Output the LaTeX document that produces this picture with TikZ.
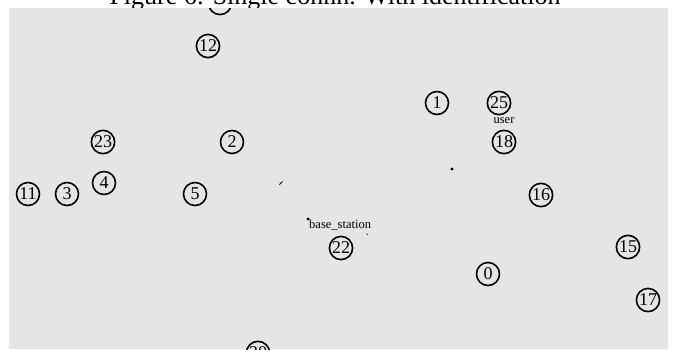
\documentclass[tikz,border=0pt]{standalone}
\usepackage{fontspec}
\setmainfont{Liberation Serif}
\definecolor{panelgrey}{RGB}{229,229,229}
\tikzset{
  nodecirc/.style={circle,draw=black,line width=1.6pt,inner sep=0.6pt,minimum size=23pt,font=\fontsize{18}{18}\selectfont},
  smalllbl/.style={inner sep=0pt,font=\fontsize{12.5}{13}\selectfont},
  dotmark/.style={circle,fill=black,inner sep=0pt,minimum size=3.4pt},
}
\begin{document}
\begin{tikzpicture}[x=1pt,y=-1pt]
\useasboundingbox (0,0) rectangle (673,349);
\fill[white] (0,0) rectangle (673,349);
\node[inner sep=0pt,anchor=base,font=\fontsize{26}{26}\selectfont] (title) at (335,4) {Figure 6: Single connn. With identification};
\fill[panelgrey] (9,8) rectangle (668,349);
\begin{scope}
\clip (9,8) rectangle (668,349);
\node[nodecirc] (n21) at (220,3) {21};
\node[nodecirc] (n12) at (208,46) {12};
\node[nodecirc] (n1) at (437,103) {1};
\node[nodecirc] (n25) at (499,103) {25};
\node[smalllbl] (user) at (504,121) {user};
\node[nodecirc] (n18) at (504,142) {18};
\node[nodecirc] (n23) at (103,142) {23};
\node[nodecirc] (n2) at (232,142) {2};
\node[nodecirc] (n4) at (104,183) {4};
\node[nodecirc] (n11) at (28,194) {11};
\node[nodecirc] (n3) at (67,194) {3};
\node[nodecirc] (n5) at (195,194) {5};
\node[nodecirc] (n16) at (541,195) {16};
\node[dotmark] (d1) at (452,169) {};
\node[dotmark] (d2) at (308,219) {};
\node[smalllbl,anchor=west] (bs) at (309,225) {base\_station};
\node[nodecirc] (n22) at (341,248) {22};
\node[nodecirc] (n15) at (628,247) {15};
\node[nodecirc] (n0) at (488,274) {0};
\node[nodecirc] (n17) at (648,300) {17};
\node[nodecirc] (n20) at (258,353) {20};
\coordinate (m1a) at (279.5,184.5);
\coordinate (m1b) at (282.5,181.5);
\draw[line width=0.8pt] (m1a) -- (m1b);
\coordinate (m2a) at (366.5,233.5);
\coordinate (m2b) at (368,235);
\draw[line width=0.6pt] (m2a) -- (m2b);
\end{scope}
\end{tikzpicture}
\end{document}
